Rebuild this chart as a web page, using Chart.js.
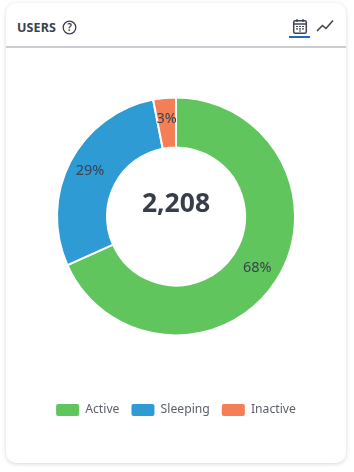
<!DOCTYPE html>
<html>
<head>
<meta charset="utf-8">
<style>
html,body{margin:0;padding:0;background:#fff;width:354px;height:472px;overflow:hidden}
#card{position:absolute;left:6px;top:3px;width:340px;height:460px;background:#fff;border-radius:10px;box-shadow:0 1px 4px rgba(0,0,0,.16)}
#rule{position:absolute;left:0;top:43px;width:340px;height:2px;background:#c9ccd0}
#title{position:absolute;left:11px;top:16px;font:bold 12.5px/18px "Noto Sans",sans-serif;color:#3a4250;letter-spacing:.1px}
#underline{position:absolute;left:283px;top:33px;width:21px;height:2px;background:#1b68c9}
svg{position:absolute}
#wrap{position:absolute;left:6px;top:41px;width:340px;height:385px}
</style>
</head>
<body>
<div id="card">
  <div id="title">USERS</div>
  <svg style="left:56px;top:17px" width="15" height="15" viewBox="0 0 15 15"><circle cx="7.5" cy="7.5" r="6.3" fill="none" stroke="#3a3f48" stroke-width="1.3"/><text x="7.5" y="11" text-anchor="middle" font-family="Noto Sans" font-size="10" font-weight="600" fill="#3a3f48">?</text></svg>
  <svg style="left:286px;top:15px" width="16" height="17" viewBox="0 0 16 17"><rect x="1.7" y="2.7" width="12.6" height="12.6" rx="1.5" fill="none" stroke="#3f4450" stroke-width="1.5"/><path d="M2 6h12" stroke="#3f4450" stroke-width="1.5"/><path d="M5 1v3M11 1v3" stroke="#3f4450" stroke-width="1.3"/><path d="M4 8.5h2M7 8.5h2M10 8.5h2M4 10.8h2M7 10.8h2M10 10.8h2M7 13h2" stroke="#3f4450" stroke-width="1.2"/></svg>
  <svg style="left:310px;top:16px" width="18" height="14" viewBox="0 0 18 14"><path d="M1 12L6.5 6.5L10 9.5L17 1.5" fill="none" stroke="#3f4450" stroke-width="1.6"/></svg>
  <div id="underline"></div>
  <div id="rule"></div>
</div>
<div id="wrap"><canvas id="c" width="340" height="385"></canvas></div>
<script src="https://cdn.jsdelivr.net/npm/chart.js@4"></script>
<script>
const categories = ["Active", "Sleeping", "Inactive"];
const values = [1508, 632, 68];
const percentLabels = ["68%", "29%", "3%"];
const colors = ["#5fc55c", "#2f9bd5", "#f47e55"];
const totalLabel = "2,208";

const labelsPlugin = {
  id: "donutLabels",
  afterDatasetsDraw(chart) {
    const ctx = chart.ctx;
    const arcs = chart.getDatasetMeta(0).data;
    const cx = arcs[0].x, cy = arcs[0].y;
    ctx.save();
    ctx.textAlign = "center";
    ctx.textBaseline = "middle";
    ctx.fillStyle = "#3a4250";
    ctx.font = '14.5px "Noto Sans", sans-serif';
    arcs.forEach((a, i) => {
      const p = a.tooltipPosition();
      ctx.fillText(percentLabels[i], cx + (p.x - cx) * 1.03, cy + (p.y - cy) * 1.03 - 1);
    });
    ctx.fillStyle = "#383d4a";
    ctx.font = 'bold 26.5px "Noto Sans", sans-serif';
    ctx.fillText(totalLabel, cx, cy - 12);
    ctx.restore();
  }
};

new Chart(document.getElementById("c"), {
  type: "doughnut",
  data: {
    labels: categories,
    datasets: [{ data: values, backgroundColor: colors, borderColor: "#fff", borderWidth: 2 }]
  },
  options: {
    responsive: false,
    animation: false,
    radius: 119,
    cutout: "58%",
    plugins: {
      tooltip: { enabled: false },
      legend: {
        position: "bottom",
        labels: {
          boxWidth: 23, boxHeight: 12, padding: 12,
          color: "#5a5f68",
          font: { family: '"Noto Sans", sans-serif', size: 12.2 },
          generateLabels(chart) {
            return categories.map((c, i) => ({
              text: c, fillStyle: colors[i], strokeStyle: colors[i], lineWidth: 0,
              borderRadius: 2, index: i, fontColor: "#5a5f68"
            }));
          }
        }
      }
    }
  },
  plugins: [labelsPlugin]
});
</script>
</body>
</html>
